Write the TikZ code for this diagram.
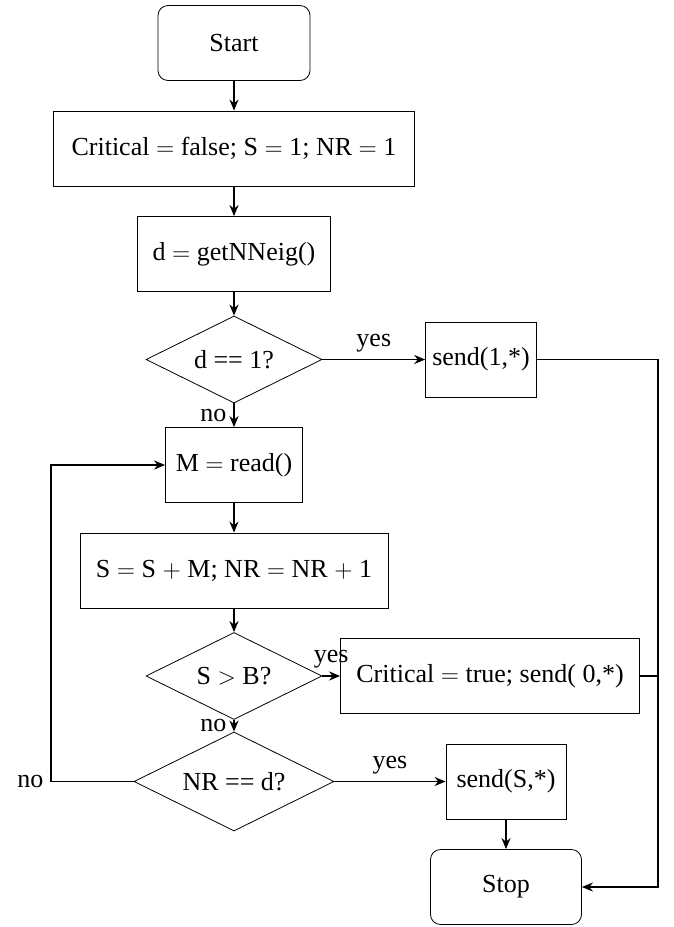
\documentclass[tikz,border=0pt]{standalone}
\usepackage{fontspec}
\setmainfont{Liberation Serif}
\usetikzlibrary{shapes, arrows.meta}

\begin{document}
\begin{tikzpicture}[node distance=52.75pt]
		\tikzstyle{every node}=[font=\fontsize{13}{15}\selectfont]
		\tikzstyle{terminal}=[rectangle, rounded corners=5pt, draw, minimum width=76pt, minimum height=37.5pt]
		\tikzstyle{process}=[rectangle, draw, minimum height=37.5pt]
		\tikzstyle{decision}=[diamond, aspect=2, draw, inner sep=0pt, minimum width=88pt, minimum height=43.5pt]
		\tikzstyle{answer}=[rectangle]
		\tikzstyle{flow}=[->, line width=0.9pt, >={Stealth[length=5.5pt, width=4.5pt]}]

		\useasboundingbox (0,0) rectangle (337pt,-463.5pt);

		\node[terminal] (start) at (117pt,-21.5pt) {Start};

		\node[process, minimum width=180.5pt, below of=start] (init) {
			Critical $=$ false; S $=$ 1; NR $=$ 1
		};

		\node[process, minimum width=96.5pt, below of=init] (nneig) {
			d $=$ getNNeig()
		};

		\node[decision, below of=nneig] (isone) {d == 1?};

		\node[process, minimum width=49.5pt, right of=isone, xshift=70.75pt] (sendone) {
			send(1,*)
		};

		\node[process, minimum width=68.5pt, below of=isone] (readmsg) {
			M $=$ read()
		};

		\node[process, minimum width=154pt, below of=readmsg] (update) {
			S $=$ S $+$ M; NR $=$ NR $+$ 1
		};

		\node[decision, below of=update] (bound) {S $>$ B?};

		\node[process, minimum width=149.5pt, right of=bound, xshift=75.25pt] (critical) {
			Critical $=$ true; send( 0,*)
		};

		\node[decision, minimum width=100pt, minimum height=49.5pt, below of=bound] (alldone) {NR == d?};

		\node[process, minimum width=60pt, right of=alldone, xshift=83.25pt] (sendsum) {
			send(S,*)
		};

		\node[terminal, minimum width=75.5pt, below of=sendsum] (stop) {Stop};

		\coordinate (rail) at (329pt,0);
		\coordinate (back) at (25.5pt,0);

		\draw[flow] (start) -- (init);
		\draw[flow] (init) -- (nneig);
		\draw[flow] (nneig) -- (isone);
		\draw[flow] (isone) -- node[answer, above] {yes} (sendone);
		\draw[flow] (isone) -- node[answer, left] {no} (readmsg);
		\draw[flow] (readmsg) -- (update);
		\draw[flow] (update) -- (bound);
		\draw[flow] (bound) -- node[answer, above] {yes} (critical);
		\draw[flow] (bound) -- node[answer, left] {no} (alldone);
		\draw[flow] (alldone) -- node[answer, above] {yes} (sendsum);
		\draw[flow] (alldone.west) -- (alldone.west -| back) node[answer, left] {no}
			|- (readmsg.west);
		\draw[flow] (sendsum) -- (stop);
		\draw[flow] (sendone.east) -- (sendone.east -| rail) |- (stop.east);
		\draw[line width=0.9pt] (critical.east) -- (critical.east -| rail);

	\end{tikzpicture}
\end{document}
